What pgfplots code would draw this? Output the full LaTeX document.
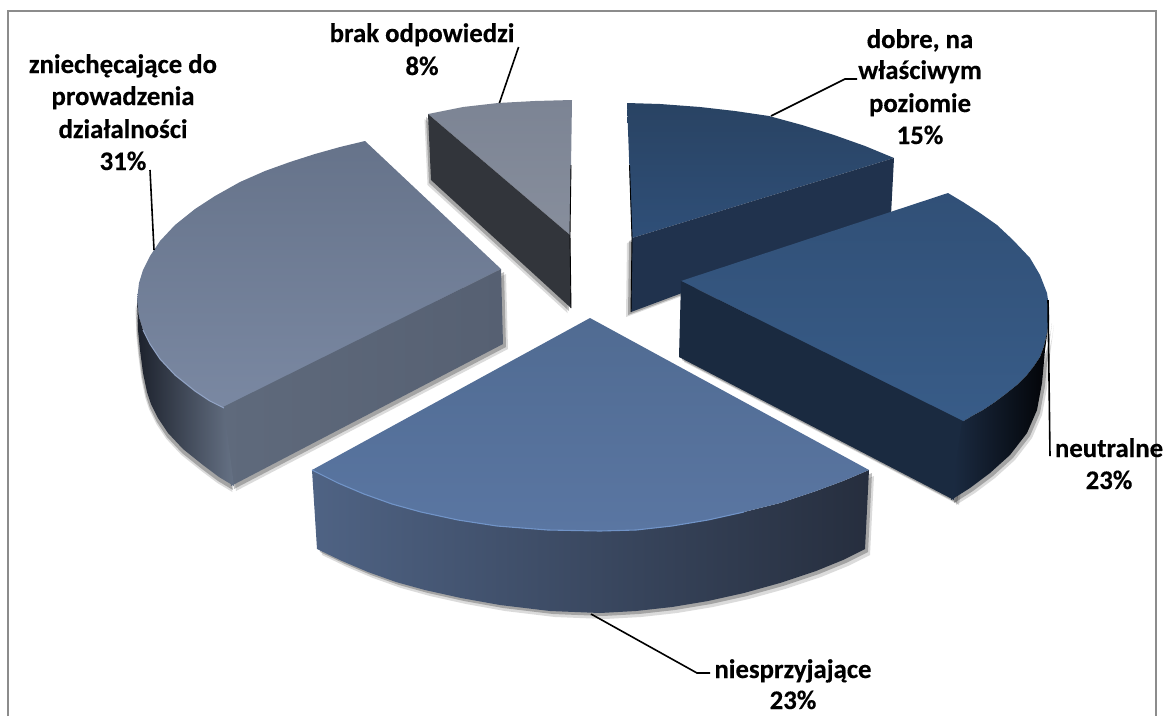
\documentclass[border=0pt]{standalone}
\usepackage{fontspec}
\setmainfont{Carlito}[BoldFeatures={FakeBold=0.35}]
\usepackage{pgfplots}
\usepackage{pgfplotstable}
\pgfplotsset{compat=1.18}

% outlines in picture pixels
\pgfplotstableread{
x y
428 114
463 107
498 103
535 101
572 100
570 235
}\brakTop
\pgfplotstableread{
x y
428 114
570 235
571 308
431 180
}\brakSide
\pgfplotstableread{
x y
365 141
340 147
315 154
290 162
265 171
240 182
215 196
195 209
175 225
160 241
150 256
143 270
139 283
137 300
139 317
143 330
150 344
160 359
175 375
195 391
210 401
224 408
501 269
}\zniTop
\pgfplotstableread{
x y
221 408
501 269
503 344
231 486
}\zniSide
\pgfplotstableread{
x y
137 300
139 317
143 330
150 344
160 359
175 375
195 391
210 401
224 408
234 486
219 477
203 465
183 449
168 433
158 418
151 404
147 392
143 373
140 350
138 330
}\zniOuter
\pgfplotstableread{
x y
627 103
660 104
700 107
735 111
769 116
802 125
834 135
865 146
894 158
632 238
}\dobTop
\pgfplotstableread{
x y
894 158
891 215
631 312
632 238
}\dobSide
\pgfplotstableread{
x y
948 193
963 202
980 213
997 225
1013 240
1030 258
1040 275
1047 293
1049 307
1049 320
1047 333
1044 346
1040 357
1034 366
1027 375
1017 385
1007 393
995 402
983 410
972 416
962 422
681 281
}\neuTop
\pgfplotstableread{
x y
681 281
965 422
954 500
679 357
}\neuSide
\pgfplotstableread{
x y
1049 320
1047 333
1044 346
1040 357
1034 366
1027 375
1017 385
1007 393
995 402
983 410
972 416
962 422
951 500
970 488
990 473
1010 455
1027 433
1037 410
1042 383
1045 350
}\neuOuter
\pgfplotstableread{
x y
312 470
338 483
364 494
392 504
421 512
458 520
497 526
548 530
600 531
636 530
672 526
708 520
744 512
780 503
816 491
843 481
869 470
590 318
}\nieTop
\pgfplotstableread{
x y
312 470
338 483
364 494
392 504
421 512
458 520
497 526
548 530
600 531
636 530
672 526
708 520
744 512
780 503
816 491
843 481
869 470
865 549
843 560
816 571
780 583
744 593
708 601
672 607
636 611
600 613
550 611
500 605
461 598
425 590
396 582
368 572
342 561
317 549
}\nieSide

\definecolor{rimN}{HTML}{7194C8}
\definecolor{rimZ}{HTML}{91A3C4}
\definecolor{brA}{HTML}{7C8494}
\definecolor{brB}{HTML}{878E9C}
\definecolor{brS}{HTML}{32353B}
\definecolor{znA}{HTML}{66738A}
\definecolor{znB}{HTML}{7A88A2}
\definecolor{znS}{HTML}{5F6A7C}
\definecolor{znT}{HTML}{566072}
\definecolor{znO}{HTML}{1C212C}
\definecolor{znP}{HTML}{667285}
\definecolor{doA}{HTML}{294363}
\definecolor{doB}{HTML}{2F4F78}
\definecolor{doS}{HTML}{20324D}
\definecolor{neA}{HTML}{315077}
\definecolor{neB}{HTML}{385C88}
\definecolor{neS}{HTML}{1A2A40}
\definecolor{neP}{HTML}{1B2B42}
\definecolor{neO}{HTML}{020306}
\definecolor{niA}{HTML}{506B92}
\definecolor{niB}{HTML}{5A76A2}
\definecolor{niS}{HTML}{4F6384}
\definecolor{niT}{HTML}{262E3E}

\newcommand{\lab}[3]{\node[anchor=base,font=\fontsize{26.8}{30}\selectfont\bfseries,inner sep=0pt] at (axis cs:#1,#2) {#3};}
\newcommand{\shadow}[5]{%
  \addplot[draw=none, fill=black, opacity=0.25, xshift=#2pt, yshift=-#3pt] table {#1} -- cycle;
  \addplot[draw=none, fill=black, opacity=0.14, xshift=#4pt, yshift=-#5pt] table {#1} -- cycle;
}

\begin{document}
\begin{tikzpicture}
\begin{axis}[
  scale only axis, width=1165pt, height=716pt,
  xmin=0, xmax=1165, ymin=0, ymax=716, y dir=reverse,
  hide axis, clip=false, no markers
]
% frame
\addplot[draw=black!45, line width=2pt] coordinates {(8,716)(8,11)(1156,11)(1156,716)};

% soft shadows
\shadow{\brakSide}{-2}{3}{-3.5}{5}
\shadow{\zniOuter}{-1}{4}{-1.6}{6}
\shadow{\zniSide}{3}{3}{5}{5}
\shadow{\dobSide}{-3}{3}{-5}{5}
\shadow{\neuOuter}{3}{3}{5}{5}
\shadow{\neuSide}{3}{3}{5}{5}
\shadow{\nieSide}{3}{3}{5}{6}

% brak odpowiedzi
\addplot[draw=none, top color=brA, bottom color=brB] table {\brakTop} -- cycle;
\addplot[draw=none, fill=brS] table {\brakSide} -- cycle;
\addplot[draw=black, line width=0.9pt] coordinates {(571,165)(570,235)(571,308)};

% zniechecajace
\addplot[draw=none, top color=znA, bottom color=znB] table {\zniTop} -- cycle;
\addplot[draw=none, left color=znS, right color=znT] table {\zniSide} -- cycle;
\addplot[draw=none, left color=znO, right color=znP] table {\zniOuter} -- cycle;
\addplot[draw=rimZ, line width=1.1pt] coordinates {(143,330)(150,344)(160,359)(175,375)(195,391)(210,401)(224,408)};

% dobre
\addplot[draw=none, top color=doA, bottom color=doB] table {\dobTop} -- cycle;
\addplot[draw=none, fill=doS] table {\dobSide} -- cycle;
\addplot[draw=black, line width=0.9pt] coordinates {(629.5,165)(632,238)(631,312)};

% neutralne
\addplot[draw=none, top color=neA, bottom color=neB] table {\neuTop} -- cycle;
\addplot[draw=none, fill=neS] table {\neuSide} -- cycle;
\addplot[draw=none, left color=neP, right color=neO] table {\neuOuter} -- cycle;

% niesprzyjajace
\addplot[draw=none, left color=niS, right color=niT] table {\nieSide} -- cycle;
\addplot[draw=none, top color=niA, bottom color=niB] table {\nieTop} -- cycle;
\addplot[draw=rimN, line width=1.1pt] coordinates {(312,470)(338,483)(364,494)(392,504)(421,512)(458,520)(497,526)(548,530)(600,531)(636,530)(672,526)(708,520)(744,512)};

% leader lines
\addplot[black, line width=1.6pt] coordinates {(518.6,47)(499.4,103)};
\addplot[black, line width=1.6pt] coordinates {(150,170)(154,250)};
\addplot[black, line width=1.6pt] coordinates {(857,79)(845,79)(771,116)};
\addplot[black, line width=1.6pt] coordinates {(1048,300)(1050,456)};
\addplot[black, line width=1.6pt] coordinates {(591,614)(697,673)(710,673)};

% labels
\lab{422}{42}{brak odpowiedzi}
\lab{422}{75}{8\%}
\lab{123}{73}{zniechęcające do}
\lab{123}{105}{prowadzenia}
\lab{123}{138}{działalności}
\lab{123}{170}{31\%}
\lab{920}{48}{dobre, na}
\lab{920}{79}{właściwym}
\lab{920}{112}{poziomie}
\lab{920}{144}{15\%}
\lab{1109}{457}{neutralne}
\lab{1109}{489}{23\%}
\lab{793}{678}{niesprzyjające}
\lab{793}{709}{23\%}
\end{axis}
\pgfresetboundingbox
\path[use as bounding box] (current axis.south west) rectangle (current axis.north east);
\end{tikzpicture}
\end{document}
